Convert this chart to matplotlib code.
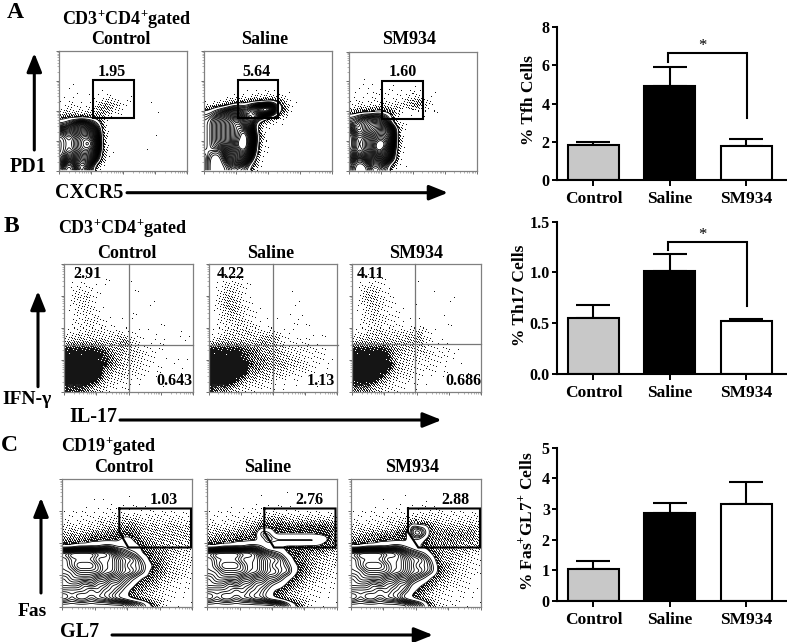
import matplotlib
matplotlib.use("Agg")
import matplotlib.pyplot as plt
import numpy as np

plt.rcParams['font.family'] = ['Liberation Serif', 'DejaVu Serif']
plt.rcParams['font.weight'] = 'bold'
plt.rcParams['mathtext.fontset'] = 'custom'
plt.rcParams['mathtext.rm'] = 'Liberation Serif:bold'
plt.rcParams['mathtext.bf'] = 'Liberation Serif:bold'

W, H = 787, 642

# bar chart values
groups = ["Control", "Saline", "SM934"]
bar_colors = ["#c8c8c8", "#000000", "#ffffff"]
tfh_mean = [1.85, 4.9, 1.8]
tfh_err = [0.15, 1.03, 0.37]
th17_mean = [0.55, 1.01, 0.52]
th17_err = [0.13, 0.17, 0.02]
gc_mean = [1.03, 2.85, 3.17]
gc_err = [0.27, 0.33, 0.70]

tfh_gates = ["1.95", "5.64", "1.60"]
th17_upper = ["2.91", "4.22", "4.11"]
th17_lower = ["0.643", "1.13", "0.686"]
th17_small = ["96.3%", "94.5%", "95.1%"]
gc_gates = ["1.03", "2.76", "2.88"]

# cell density of the flow plots, estimated by eye on a 20x20 grid, one hex digit
# per cell (top row first, short rows are zeros on the right)
tfh_control = [
    "", "", "", "", "", "",
    "00100101000100",
    "0110111110010",
    "1221124442210",
    "2322235543210010",
    "3433335432100",
    "789a9852",
    "9abcba81",
    "cbcddc92",
    "dcdeed92000000100",
    "dcdefea2000000010",
    "dcdeed9200000100",
    "dbcddc82",
    "c9bcca71",
    "a7aca8",
]
tfh_saline = [
    "", "", "", "", "", "",
    "00000001011100",
    "000111122332210",
    "01235667778752",
    "5789aa9bdfe963",
    "89abbbaabdb852",
    "9abcddcb975321",
    "9abcdecb621",
    "9abcdefc72",
    "9abcdefd82",
    "9abcdffd72",
    "9a9bdefc71",
    "a78bcddb6",
    "a67abcb94",
    "a678a9961",
]
tfh_sm934 = [
    "", "", "", "",
    "00100011",
    "00110111001",
    "011122110121",
    "11122222133210",
    "2222222234553",
    "23334444346431",
    "7899a9742",
    "9abbba92",
    "aabcccb82",
    "dabcddd92",
    "dbcdeed91",
    "dbcdffd91",
    "dbcdfec81",
    "cabcddc7",
    "a89bbb97",
    "a67aa97",
]
th17_control = [
    "",
    "0001",
    "0111001",
    "012211000010",
    "0233210000100",
    "023421000000001",
    "0233210000001",
    "0233321000100001",
    "0223321000010",
    "0223322110001001",
    "1233332232110010001",
    "34444434453201110010",
    "66666655564211110110",
    "88888775544322110100",
    "99999876544322110010",
    "aaaaa986543322101101",
    "aaaaa965443221110010",
    "aaaaa854332210100",
    "99997643221100100",
    "7776543211001",
]
th17_saline = [
    "",
    "00011",
    "0122210001",
    "01333210000",
    "0244321000001000",
    "0245421000010",
    "0345431000000100",
    "0245432110001",
    "0234432100100100",
    "0233433211000101",
    "1234444333211001",
    "2344444455421111010",
    "66666655654322221110",
    "8888877655543332221",
    "a999976665444332211",
    "baaaa97665554432211",
    "baaaa96655443322111",
    "aaaa975544332211010",
    "99986543322111001",
    "7665432211001",
]
th17_sm934 = [
    "",
    "00001",
    "0112210001",
    "0233210000001",
    "0344321000000100",
    "0345321000000001",
    "0244321000100",
    "0234322100000001",
    "0234322100000100",
    "0233322210100001",
    "1234433334421001",
    "3444444445532100",
    "66666655545311111100",
    "8888876544432221010",
    "99999854433322211",
    "aaaaa96433322110100",
    "aaaaa85433221110010",
    "99998543322100100",
    "88875432211100",
    "6665432110001",
]
gc_control = [
    "", "",
    "00000100001000",
    "00010010100100100",
    "01011011211011101",
    "11121222232222222222",
    "22222333344433333323",
    "33333344455544434434",
    "44445555666544444444",
    "55556666677654444444",
    "77888899887765544333",
    "effffeedba9866554433",
    "deeeedddcbba86554333",
    "defffeddcbaa97654332",
    "ddeeeeddcbba96654332",
    "cddddccbba9866543322",
    "cccbcbbaa98655433221",
    "bbbbabaa986554332211",
    "abaabaa9876543322111",
    "ccccccccccba97532111",
]
gc_saline = [
    "", "",
    "00000000100010000",
    "00010001000100010",
    "01011011121011101",
    "11121222233322222222",
    "22222333455544444444",
    "33333445666666666665",
    "44555556a96666666665",
    "555566667a9999999875",
    "77888899866666666655",
    "effffeedba9866655544",
    "deeeedddcbba86554433",
    "defffeddcbaa97654333",
    "ddeeeeddcbbaa7654332",
    "cddddccbbaa976543322",
    "cccbcbbaa98765433221",
    "bbbbabaa986654322211",
    "abaabaa9976543322111",
    "cccccccccccb97532111",
]
gc_sm934 = [
    "", "",
    "00000000100001000",
    "00001001000110010",
    "01011011111011101",
    "11121222223333222222",
    "22222333343433333333",
    "333333444a9855444444",
    "445555566ab955555554",
    "55556666688655555554",
    "77888899876655554444",
    "effffeedba9865444433",
    "deeeedddcbba85443322",
    "defffeddcbaa96543322",
    "ddeeeeddcbba96543322",
    "cddddccbba9865433221",
    "cccbcbbaa87654332211",
    "bbbbabaa976543222111",
    "abaabaa9765432211111",
    "cccccccccba853221111",
]

# levels of the contour lines, same scale as the grids
CONTOUR_LEVELS = [6.5, 8.2, 8.8, 9.2, 9.6, 10.0, 10.3, 10.6, 10.9, 11.2, 11.5, 11.8,
                  12.1, 12.4, 12.7, 13.0, 13.3, 13.6, 13.9, 14.2, 14.5]
# the small blobs of row A are packed tighter
TIGHT_LEVELS = [6.5, 8.0, 8.5, 8.9, 9.2, 9.5, 9.7, 9.9, 10.1, 10.3, 10.5, 10.7, 10.9, 11.1,
                11.3, 11.5, 11.7, 11.9, 12.1, 12.3, 12.5, 12.7, 12.9, 13.1, 13.3, 13.5, 13.7,
                13.9, 14.1, 14.3]


def px_axes(x0, y0, x1, y1):
    return fig.add_axes([x0 / W, 1 - y1 / H, (x1 - x0) / W, (y1 - y0) / H])


def read_grid(rows):
    return np.array([[int(c, 16) for c in r.ljust(20, '0')] for r in rows], dtype=float)


def to_pixels(grid, w, h, smooth):
    # resample the coarse grid to one value per screen pixel
    xs = (np.arange(w) + 0.5) / w * 20 - 0.5
    ys = (np.arange(h) + 0.5) / h * 20 - 0.5
    a = np.array([np.interp(xs, np.arange(20), row) for row in grid])
    a = np.array([np.interp(ys, np.arange(20), col) for col in a.T]).T
    k = np.ones(smooth) / smooth
    n = smooth // 2
    for _ in range(2):
        a = np.apply_along_axis(lambda v: np.convolve(np.pad(v, n, mode='edge'), k, 'valid'), 0, a)
        a = np.apply_along_axis(lambda v: np.convolve(np.pad(v, n, mode='edge'), k, 'valid'), 1, a)
    return a


def flow_panel(box, rows, levels, smooth=3):
    x0, y0, x1, y1 = box
    ax = px_axes(x0, y0, x1, y1)
    w, h = int(x1 - x0), int(y1 - y0)
    d = to_pixels(read_grid(rows), w, h, smooth)
    # halftone of the density grid: a fixed dither screen, so the read values stay the only input
    jj, ii = np.meshgrid(np.arange(w), np.arange(h))
    screen = (52.9829189 * ((0.06711056 * jj + 0.00583715 * ii) % 1)) % 1
    if levels:
        p = np.interp(d, [0, 1, 2, 3, 4, 5, 6, 6.5], [0, .02, .06, .14, .27, .48, .72, .85])
        p[d > 6.5] = 0
    else:
        p = np.interp(d, [0, 1, 2, 3, 4, 5, 6, 7, 8, 9], [0, .025, .07, .12, .2, .32, .5, .78, .97, 1])
    img = np.zeros((h, w, 4))
    img[..., 3] = (screen < p) * 0.92
    ax.imshow(img, extent=[0, 4, 0, 4], aspect='auto', interpolation='nearest', zorder=1)
    if levels:
        X = (np.arange(w) + 0.5) / w * 4
        Y = 4 - (np.arange(h) + 0.5) / h * 4
        ax.contour(X, Y, d, levels=levels, colors='k', linewidths=0.6, zorder=2)
    ax.set_xlim(0, 4)
    ax.set_ylim(0, 4)
    minor = [k + np.log10(m) for k in range(4) for m in range(2, 10)]
    for axis in (ax.xaxis, ax.yaxis):
        axis.set_ticks(range(5))
        axis.set_ticks(minor, minor=True)
        axis.set_ticklabels([])
    ax.tick_params(which='major', length=2.5, width=0.6, color='#555555', direction='out')
    ax.tick_params(which='minor', length=1.2, width=0.4, color='#777777', direction='out')
    for s in ax.spines.values():
        s.set_color('#808080')
        s.set_linewidth(0.9)
    return ax


def bar_panel(box, means, errs, top, step, fmt, label, label_x, label_y):
    x0, y0, x1, y1 = box
    ax = px_axes(x0, y0, x1, y1)
    pos = np.arange(len(groups))
    ax.bar(pos, means, width=0.67, color=bar_colors, edgecolor='k', linewidth=1.5, zorder=2)
    ax.errorbar(pos, means, yerr=[np.zeros(3), errs], fmt='none', ecolor='k',
                elinewidth=1.5, capsize=12.5, capthick=1.5, zorder=1)
    ax.set_xlim(-0.48, 2.52)
    ax.set_ylim(0, top)
    ax.set_yticks(np.arange(0, top + step / 2, step))
    ax.set_yticklabels([fmt % v for v in np.arange(0, top + step / 2, step)], fontsize=11.5)
    ax.set_xticks(pos)
    ax.set_xticklabels(groups, fontsize=12.5)
    ax.tick_params(axis='y', length=3.5, width=1.4, pad=1.5)
    ax.tick_params(axis='x', length=4, width=1.4, pad=4)
    ax.spines['top'].set_visible(False)
    ax.spines['right'].set_visible(False)
    ax.spines['left'].set_linewidth(1.5)
    ax.spines['bottom'].set_linewidth(1.5)
    ax.patch.set_alpha(0)
    over.text(label_x, label_y, label, rotation=90, ha='center', va='center', fontsize=12.5)
    return ax


def bracket(ax, left_y, top_y, right_y, star_y):
    ax.plot([0.977, 0.977, 2.01, 2.01], [left_y, top_y, top_y, right_y], color='k', lw=1.5,
            solid_joinstyle='miter', zorder=3)
    ax.text(1.43, star_y, "*", ha='center', va='center', fontsize=12, fontweight='normal')


def arrow(x0, y0, x1, y1):
    over.annotate("", xy=(x1, y1), xytext=(x0, y0),
                  arrowprops=dict(arrowstyle='-|>,head_length=0.75,head_width=0.3', color='k',
                                  lw=2.2, shrinkA=0, shrinkB=0, mutation_scale=15))


fig = plt.figure(figsize=(W / 100, H / 100), dpi=100)

# page wide layer in screen pixels for the labels, gates and arrows
over = fig.add_axes([0, 0, 1, 1], zorder=10)
over.set_xlim(0, W)
over.set_ylim(H, 0)
over.axis('off')
over.patch.set_alpha(0)

a_boxes = [(59.3, 50.7, 187.3, 170.7), (203.7, 50.7, 331.7, 170.7), (348.7, 51.5, 476.5, 171)]
b_boxes = [(64, 264, 193.3, 391.7), (208.7, 264, 337.3, 391.7), (352, 264, 481, 391.7)]
c_boxes = [(62.3, 479.3, 192, 607), (207.3, 479.3, 336.7, 607), (351, 479.3, 480.5, 607)]

for box, rows in zip(a_boxes, [tfh_control, tfh_saline, tfh_sm934]):
    flow_panel(box, rows, TIGHT_LEVELS, smooth=7)
for box, rows in zip(b_boxes, [th17_control, th17_saline, th17_sm934]):
    flow_panel(box, rows, None, smooth=3)
for box, rows in zip(c_boxes, [gc_control, gc_saline, gc_sm934]):
    flow_panel(box, rows, CONTOUR_LEVELS, smooth=5)

# gates
for x, y in [(93, 80.3), (237.7, 80.3), (382.3, 81)]:
    over.add_patch(plt.Rectangle((x, y), 40.5, 37.5, fill=False, ec='k', lw=1.5))
for x, qx, qy in [(64, 128.7, 344.7), (208.7, 272.7, 344.7), (352, 415.3, 344.3)]:
    over.plot([qx, qx], [264, 391.7], color='#777777', lw=0.9)
    over.plot([x, x + 129], [qy, qy], color='#777777', lw=0.9)
for x0, x1, xb in [(119.3, 191, 128.3), (264.3, 335.5, 274), (408, 480, 418.3)]:
    over.plot([x0, x1, x1, xb, x0, x0], [508.5, 508.5, 547.5, 547.5, 532, 508.5],
              color='k', lw=1.5, solid_joinstyle='miter')

bar_a = bar_panel((556.7, 27.3, 786, 180), tfh_mean, tfh_err, 8, 2, "%d", "% Tfh Cells", 529, 100)
bar_b = bar_panel((556.7, 221.7, 786, 374), th17_mean, th17_err, 1.5, 0.5, "%.1f", "% Th17 Cells", 520, 295)
bar_c = bar_panel((556.7, 447.7, 786, 600.7), gc_mean, gc_err, 5, 1, "%d",
                  r"% Fas$^{+}$GL7$^{+}$ Cells", 527, 521.7)
bracket(bar_a, 6.17, 6.64, 3.23, 7.0)
bracket(bar_b, 1.22, 1.30, 0.67, 1.37)


def put(x, y, s, size=13, **kw):
    over.text(x, y, s, ha='center', va='center', fontsize=size, **kw)


for letter, x, y in [("A", 15, 12), ("B", 11, 226.7), ("C", 9.3, 445.7)]:
    put(x, y, letter, 17)

put(127, 20, r"CD3$^{+}$CD4$^{+}$gated", 13)
put(123, 229, r"CD3$^{+}$CD4$^{+}$gated", 13)
put(109, 446.5, r"CD19$^{+}$gated", 13)

for name, xa, xb, xc in zip(groups, [120.7, 265, 409], [126.7, 270.7, 415.7], [124, 267.3, 412]):
    put(xa, 40, name)
    put(xb, 253, name)
    put(xc, 468, name)

for s, x in zip(tfh_gates, [112, 256.7, 403]):
    put(x, 71.7, s, 11.5)
for s, x in zip(th17_upper, [87, 230.7, 370.7]):
    put(x, 274, s, 11.5)
for s, x in zip(th17_lower, [174, 321.3, 463]):
    put(x, 380.7, s, 11.5)
for s, x in zip(th17_small, [76, 220, 362.7]):
    over.text(x, 386.7, s, ha='center', va='center', fontsize=3.6, fontweight='normal',
              family='DejaVu Sans', color='#333333')
for s, x in zip(gc_gates, [163.3, 309, 455]):
    put(x, 500, s, 11.5)

put(28.3, 166.7, "PD1", 14.5)
put(89, 193, "CXCR5", 14.5)
put(26.7, 400, "IFN-γ", 14)
put(93, 417, "IL-17", 14.5)
put(32.7, 611, "Fas", 14)
put(79.3, 632, "GL7", 14.5)

arrow(34.3, 150, 34.3, 53)
arrow(127, 192.7, 448, 192.7)
arrow(38, 386.7, 38, 291)
arrow(120, 420, 441.7, 420)
arrow(41, 593, 41, 497.7)
arrow(112, 635, 433, 635)

fig.savefig("out.png", dpi=100)
